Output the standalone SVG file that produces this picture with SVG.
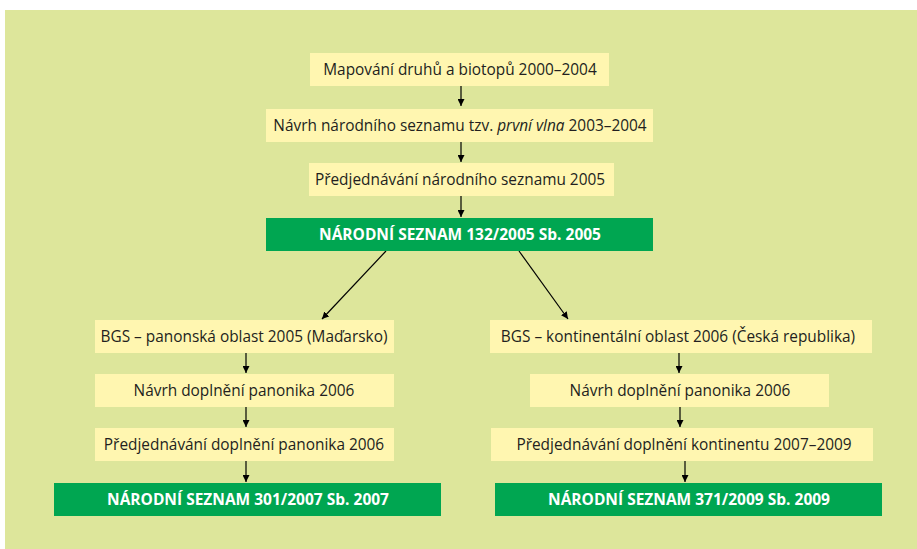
<svg xmlns="http://www.w3.org/2000/svg" width="917" height="549" viewBox="0 0 917 549">
<defs>
<style>
.bg{fill:#dde69b}
.y{fill:#fff6b0}
.g{fill:#00a651}
.t{font-family:"Open Sans","Liberation Sans",sans-serif;font-size:15.4px;fill:#231f20;text-anchor:middle}
.w{font-family:"Open Sans","Liberation Sans",sans-serif;font-size:15.5px;font-weight:bold;fill:#ffffff;text-anchor:middle}
.c{stroke:#000;stroke-width:1.2;fill:none;marker-end:url(#ah)}
</style>
<marker id="ah" viewBox="0 0 10 10" refX="10" refY="5" markerWidth="7" markerHeight="7" markerUnits="userSpaceOnUse" orient="auto">
<path d="M0,0 L10,5 L0,10 z" fill="#000"/>
</marker>
</defs>
<rect class="bg" x="5" y="10" width="912" height="539"/>
<g id="connectors">
<line class="c" x1="461" y1="86" x2="461" y2="106"/>
<line class="c" x1="461" y1="142" x2="461" y2="162"/>
<line class="c" x1="461" y1="196" x2="461" y2="217"/>
<line class="c" x1="386" y1="251" x2="322" y2="319"/>
<line class="c" x1="519" y1="251" x2="568" y2="319"/>
<line class="c" x1="246" y1="353" x2="246" y2="373"/>
<line class="c" x1="246" y1="407" x2="246" y2="427"/>
<line class="c" x1="246" y1="461" x2="246" y2="482"/>
<line class="c" x1="679" y1="353" x2="679" y2="373"/>
<line class="c" x1="680" y1="407" x2="680" y2="427"/>
<line class="c" x1="685" y1="461" x2="685" y2="482"/>
</g>
<g id="n1"><rect class="y" x="310" y="53" width="299" height="33"/><text class="t" x="460" y="74.5">Mapování druhů a biotopů 2000–2004</text></g>
<g id="n2"><rect class="y" x="266" y="109" width="387" height="33"/><text class="t" x="460" y="130.5">Návrh národního seznamu tzv. <tspan font-style="italic">první vlna</tspan> 2003–2004</text></g>
<g id="n3"><rect class="y" x="309" y="163" width="305" height="33"/><text class="t" x="460" y="184.5">Předjednávání národního seznamu 2005</text></g>
<g id="n4"><rect class="g" x="266" y="218" width="387" height="33"/><text class="w" x="460" y="239.5">NÁRODNÍ SEZNAM 132/2005 Sb. 2005</text></g>
<g id="l1"><rect class="y" x="95" y="320" width="299" height="33"/><text class="t" x="244" y="341.5">BGS – panonská oblast 2005 (Maďarsko)</text></g>
<g id="l2"><rect class="y" x="95" y="374" width="299" height="33"/><text class="t" x="244" y="395.5">Návrh doplnění panonika 2006</text></g>
<g id="l3"><rect class="y" x="95" y="428" width="299" height="33"/><text class="t" x="244" y="449.5">Předjednávání doplnění panonika 2006</text></g>
<g id="l4"><rect class="g" x="54" y="483" width="387" height="33"/><text class="w" x="248" y="504.5">NÁRODNÍ SEZNAM 301/2007 Sb. 2007</text></g>
<g id="r1"><rect class="y" x="490" y="320" width="382" height="33"/><text class="t" x="678" y="341.5">BGS – kontinentální oblast 2006 (Česká republika)</text></g>
<g id="r2"><rect class="y" x="530" y="374" width="299" height="33"/><text class="t" x="680" y="395.5">Návrh doplnění panonika 2006</text></g>
<g id="r3"><rect class="y" x="491" y="428" width="382" height="33"/><text class="t" x="684" y="449.5">Předjednávání doplnění kontinentu 2007–2009</text></g>
<g id="r4"><rect class="g" x="495" y="483" width="387" height="33"/><text class="w" x="689" y="504.5">NÁRODNÍ SEZNAM 371/2009 Sb. 2009</text></g>
</svg>
